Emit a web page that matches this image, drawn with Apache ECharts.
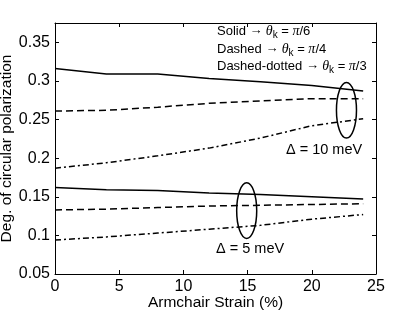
<!DOCTYPE html>
<html>
<head>
<meta charset="utf-8">
<script src="https://cdn.jsdelivr.net/npm/echarts@6/dist/echarts.min.js"></script>
<style>html,body{margin:0;padding:0;background:#fff}#c{width:415px;height:312px}</style>
</head>
<body>
<div id="c"></div>
<script>
var strain = [0, 4, 8, 12, 16, 20, 24];
var solid10 = [0.316, 0.309, 0.309, 0.303, 0.299, 0.294, 0.287];
var dashed10 = [0.261, 0.262, 0.266, 0.271, 0.274, 0.277, 0.277];
var dashdot10 = [0.187, 0.194, 0.203, 0.213, 0.226, 0.242, 0.251];
var solid5 = [0.162, 0.159, 0.158, 0.155, 0.153, 0.150, 0.147];
var dashed5 = [0.133, 0.134, 0.136, 0.138, 0.139, 0.140, 0.141];
var dashdot5 = [0.094, 0.098, 0.103, 0.108, 0.113, 0.121, 0.127];
var xTicks = [0, 5, 10, 15, 20, 25];
var yTicks = [0.05, 0.1, 0.15, 0.2, 0.25, 0.3, 0.35];
// ellipse annotations: [x, y, halfWidth (x units), halfHeight (y units)]
var ellipse10 = [22.7, 0.262, 0.78, 0.036];
var ellipse5 = [14.93, 0.132, 0.78, 0.036];

function pairs(ys) { return strain.map(function (x, i) { return [x, ys[i]]; }); }

var FONT = 'Liberation Sans, Arial, sans-serif';
var SERIF = 'Liberation Serif, Times New Roman, serif';
var chart = echarts.init(document.getElementById('c'), null, {renderer: 'canvas'});

function lineSeries(data, dash) {
  return {
    type: 'line', data: pairs(data), showSymbol: false, symbol: 'none',
    xAxisIndex: 0, yAxisIndex: 0, animation: false,
    lineStyle: {color: '#000', width: 1.5, type: dash}
  };
}
function ellipseSeries(e) {
  return {
    type: 'custom', xAxisIndex: 0, yAxisIndex: 0, animation: false, silent: true,
    data: [e],
    renderItem: function (params, api) {
      var c = api.coord([api.value(0), api.value(1)]);
      var p = api.coord([api.value(0) + api.value(2), api.value(1) + api.value(3)]);
      return {
        type: 'ellipse',
        shape: {cx: c[0], cy: c[1], rx: Math.abs(p[0] - c[0]), ry: Math.abs(p[1] - c[1])},
        style: {fill: null, stroke: '#000', lineWidth: 1.5}
      };
    }
  };
}

var rich = {
  t: {fontFamily: FONT, fontSize: 13, color: '#000'},
  ar: {fontFamily: SERIF, fontSize: 13, color: '#000'},
  th: {fontFamily: SERIF, fontStyle: 'italic', fontSize: 14, color: '#000'},
  sub: {fontFamily: FONT, fontSize: 10, color: '#000', padding: [9, 0, 0, 0]},
  pi: {fontFamily: SERIF, fontStyle: 'italic', fontSize: 14, color: '#000'}
};
function legendLine(name, den, y) {
  return {
    type: 'text', left: 217, top: y,
    style: {
      text: '{t|' + name + ' }{ar|\u2192 }{th|\u03b8}{sub|k}{t| = }{pi|\u03c0}{t|/' + den + '}',
      rich: rich
    }
  };
}

var axisCommonX = {min: 0, max: 25, interval: 5};
var axisCommonY = {min: 0.05, max: 0.375, interval: 0.05};

chart.setOption({
  animation: false,
  backgroundColor: '#fff',
  grid: {left: 55, right: 39, top: 23, bottom: 38, containLabel: false, outerBoundsMode: 'none'},
  xAxis: [
    Object.assign({
      type: 'value', position: 'bottom',
      name: 'Armchair Strain (%)', nameLocation: 'middle', nameGap: 21, nameMoveOverlap: false,
      nameTextStyle: {fontFamily: FONT, fontSize: 15.5, color: '#000'},
      axisLine: {onZero: false, lineStyle: {color: '#000', width: 1}},
      axisTick: {inside: true, length: 4, lineStyle: {color: '#000'}},
      axisLabel: {fontFamily: FONT, fontSize: 16, color: '#000', margin: 5},
      splitLine: {show: false}
    }, axisCommonX),
    Object.assign({
      type: 'value', position: 'top',
      axisLine: {onZero: false, lineStyle: {color: '#000', width: 1}},
      axisTick: {inside: true, length: 4, lineStyle: {color: '#000'}},
      axisLabel: {show: false}, splitLine: {show: false}
    }, axisCommonX)
  ],
  yAxis: [
    Object.assign({
      type: 'value', position: 'left',
      name: 'Deg. of circular polarization', nameLocation: 'middle', nameGap: 40, nameMoveOverlap: false,
      nameTextStyle: {fontFamily: FONT, fontSize: 15.5, color: '#000'},
      axisLine: {onZero: false, lineStyle: {color: '#000', width: 1}},
      axisTick: {inside: true, length: 4, lineStyle: {color: '#000'}},
      axisLabel: {fontFamily: FONT, fontSize: 16, color: '#000', margin: 5, showMaxLabel: false,
        formatter: function (v) {
          for (var i = 0; i < yTicks.length; i++) if (Math.abs(v - yTicks[i]) < 1e-9) return String(yTicks[i]);
          return '';
        }},
      splitLine: {show: false}
    }, axisCommonY),
    Object.assign({
      type: 'value', position: 'right',
      axisLine: {onZero: false, lineStyle: {color: '#000', width: 1}},
      axisTick: {inside: true, length: 4, lineStyle: {color: '#000'}},
      axisLabel: {show: false}, splitLine: {show: false}
    }, axisCommonY)
  ],
  series: [
    lineSeries(solid10, 'solid'),
    lineSeries(dashed10, [7, 4]),
    lineSeries(dashdot10, [6, 3, 2, 3]),
    lineSeries(solid5, 'solid'),
    lineSeries(dashed5, [7, 4]),
    lineSeries(dashdot5, [6, 3, 2, 3]),
    ellipseSeries(ellipse10),
    ellipseSeries(ellipse5)
  ],
  graphic: [
    legendLine('Solid', '6', 24),
    legendLine('Dashed', '4', 42),
    legendLine('Dashed-dotted', '3', 59),
    {type: 'text', left: 286, top: 142, style: {text: '\u0394 = 10 meV', fontFamily: FONT, fontSize: 14.5, fill: '#000'}},
    {type: 'text', left: 216, top: 241, style: {text: '\u0394 = 5 meV', fontFamily: FONT, fontSize: 14.5, fill: '#000'}}
  ]
});
</script>
</body>
</html>
